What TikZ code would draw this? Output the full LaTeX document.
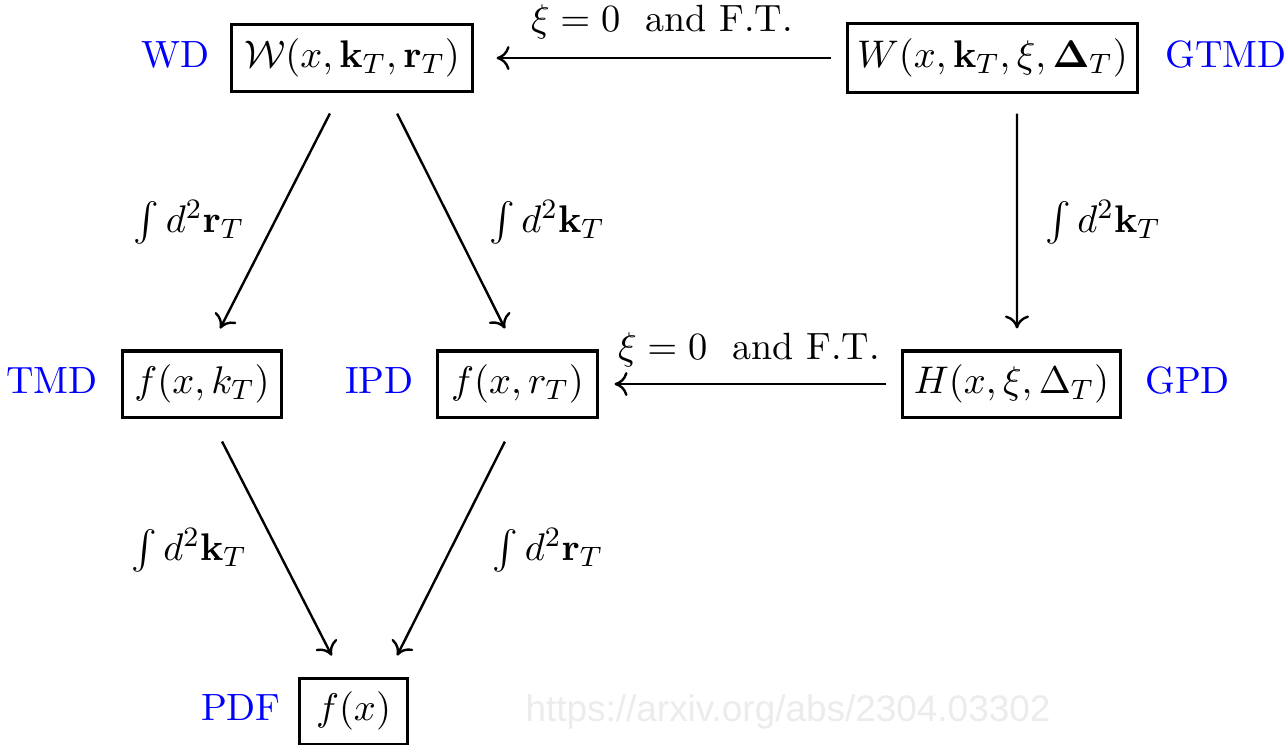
\documentclass[tikz,border=0pt]{standalone}
\usepackage{amsmath}
\usepackage[no-math]{fontspec}
\newfontfamily\wmfont{Liberation Sans}
\usetikzlibrary{arrows.meta}
\definecolor{wmgray}{RGB}{236,236,236}
\begin{document}
\begin{tikzpicture}[x=0.01cm,y=-0.01cm,
  font=\fontsize{10.8}{13}\selectfont,
  dbox/.style={draw,line width=0.03cm,inner sep=0pt,minimum height=0.66cm},
  tag/.style={text=blue,inner sep=0pt,anchor=base east},
  tagr/.style={text=blue,inner sep=0pt,anchor=base west},
  conn/.style={line width=0.024cm,-{To[length=0.13cm,width=0.24cm]}},
  lbl/.style={inner sep=0pt,anchor=center}]
\fill[white] (0,0) rectangle (1285,744);
\useasboundingbox (0,0) rectangle (1285,744);
% boxes
\node[dbox,minimum width=2.4cm] (wd) at (352,58) {$\mathcal{W}(x,\mathbf{k}_T,\mathbf{r}_T)$};
\node[dbox,minimum width=2.89cm,minimum height=0.68cm] (gtmd) at (992.5,58) {$W(x,\mathbf{k}_T,\xi,\mathbf{\Delta}_T)$};
\node[dbox,minimum width=1.58cm] (tmd) at (202,384) {$f(x,k_T)$};
\node[dbox,minimum width=1.59cm] (ipd) at (517.5,384) {$f(x,r_T)$};
\node[dbox,minimum width=2.17cm] (gpd) at (1011.5,384) {$H(x,\xi,\Delta_T)$};
\node[dbox,minimum width=1.07cm] (pdf) at (353.5,711) {$f(x)$};
% tags
\node[tag] (wdt) at ([xshift=-0.2cm]wd.base west) {WD};
\node[tagr] (gtmdt) at ([xshift=0.26cm]gtmd.base east) {GTMD};
\node[tag] (tmdt) at ([xshift=-0.23cm]tmd.base west) {TMD};
\node[tag] (ipdt) at ([xshift=-0.22cm]ipd.base west) {IPD};
\node[tagr] (gpdt) at ([xshift=0.23cm]gpd.base east) {GPD};
\node[tag] (pdft) at ([xshift=-0.17cm]pdf.base west) {PDF};
% connectors
\draw[conn,shorten <=0.15cm,shorten >=0.23cm] (gtmd.west) -- (wd.east);
\draw[conn,shorten <=0.15cm,shorten >=0.16cm] (gpd.west) -- (ipd.east);
\draw[conn,shorten <=0.235cm,shorten >=0.235cm] ([xshift=-0.114cm]wd.south) -- ([xshift=0.074cm]tmd.north);
\draw[conn,shorten <=0.235cm,shorten >=0.235cm] ([xshift=0.346cm]wd.south) -- ([xshift=-0.02cm]ipd.north);
\draw[conn,shorten <=0.2cm,shorten >=0.21cm] ([xshift=0.245cm]gtmd.south) -- ([xshift=0.055cm]gpd.north);
\draw[conn,shorten <=0.258cm,shorten >=0.235cm] ([xshift=0.083cm]tmd.south) -- ([xshift=-0.11cm]pdf.north);
\draw[conn,shorten <=0.258cm,shorten >=0.235cm] ([xshift=-0.01cm]ipd.south) -- ([xshift=0.33cm]pdf.north);
% connector labels
\node[lbl] (l1) at (662,22) {$\xi = 0$\ \ and F.T.};
\node[lbl] (l2) at (749,350) {$\xi = 0$\ \ and F.T.};
\node[lbl] (l3) at (189,222) {$\int d^2\mathbf{r}_T$};
\node[lbl] (l4) at (547,222) {$\int d^2\mathbf{k}_T$};
\node[lbl] (l5) at (1103,222) {$\int d^2\mathbf{k}_T$};
\node[lbl] (l6) at (189,550) {$\int d^2\mathbf{k}_T$};
\node[lbl] (l7) at (548,550) {$\int d^2\mathbf{r}_T$};
% watermark
\node[lbl,text=wmgray,font=\wmfont\fontsize{10.5}{12}\selectfont] (wm) at (788,712) {https://arxiv.org/abs/2304.03302};
\end{tikzpicture}
\end{document}
